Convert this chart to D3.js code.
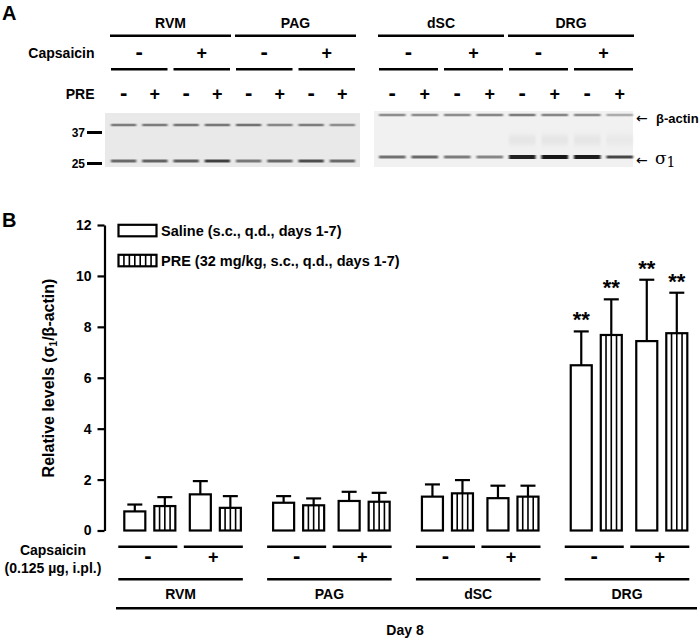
<!DOCTYPE html>
<html><head><meta charset="utf-8">
<script src="https://cdn.jsdelivr.net/npm/d3@7/dist/d3.min.js"></script>
<style>body{margin:0;background:#fff}svg{display:block}</style>
</head><body>
<script>
// ---------------- DATA ----------------
const regions = ["RVM", "PAG", "dSC", "DRG"];
const capsaicin = ["-", "+"];
const treatments = ["Saline", "PRE"];
const legendLabels = ["Saline (s.c., q.d., days 1-7)", "PRE (32 mg/kg, s.c., q.d., days 1-7)"];
// order: RVM-, RVM+, PAG-, PAG+, dSC-, dSC+, DRG-, DRG+
const salineMean = [0.75, 1.42, 1.09, 1.16, 1.33, 1.27, 6.49, 7.44];
const salineSEM  = [0.27, 0.52, 0.26, 0.36, 0.48, 0.49, 1.33, 2.41];
const preMean    = [0.96, 0.89, 0.99, 1.13, 1.46, 1.33, 7.68, 7.75];
const preSEM     = [0.35, 0.46, 0.27, 0.35, 0.52, 0.43, 1.40, 1.59];
const salineSig  = ["", "", "", "", "", "", "**", "**"];
const preSig     = ["", "", "", "", "", "", "**", "**"];
const yTicks = [0, 2, 4, 6, 8, 10, 12];

// Western blot (panel A): lanes PRE -/+ within capsaicin -/+ within region
const blotLeftRegions = ["RVM", "PAG"];
const blotRightRegions = ["dSC", "DRG"];
const lanePRE = ["-", "+", "-", "+", "-", "+", "-", "+"];
const actinLeft  = [0.50, 0.50, 0.52, 0.52, 0.55, 0.45, 0.50, 0.42];
const sigmaLeft  = [0.58, 0.62, 0.64, 0.78, 0.52, 0.58, 0.72, 0.58];
const actinRight = [0.42, 0.42, 0.42, 0.45, 0.50, 0.45, 0.42, 0.28];
const sigmaRight = [0.55, 0.58, 0.50, 0.45, 0.92, 0.97, 0.95, 0.75];
const hazeRight  = [0.00, 0.00, 0.00, 0.00, 0.05, 0.05, 0.05, 0.03];
const mwMarkers = ["37", "25"];

// ---------------- LAYOUT ----------------
const W = 700, H = 641;
const FONT = "'Liberation Sans', Arial, Helvetica, sans-serif";
const svg = d3.select("body").append("svg").attr("width", W).attr("height", H)
  .attr("font-family", FONT).attr("font-weight", "bold").attr("fill", "#000");

const defs = svg.append("defs");
defs.append("filter").attr("id", "blur").attr("x", "-20%").attr("y", "-200%").attr("width", "140%").attr("height", "500%")
  .append("feGaussianBlur").attr("stdDeviation", "0.9 0.7");
defs.append("filter").attr("id", "blur2").attr("x", "-20%").attr("y", "-200%").attr("width", "140%").attr("height", "500%")
  .append("feGaussianBlur").attr("stdDeviation", "1 3");

function sign(sel, s, x, yy) {
  return sel.append("text").attr("x", x).attr("y", yy).attr("text-anchor", "middle")
    .attr("font-size", s === "-" ? 22 : 18).text(s);
}

// ================= PANEL A =================
svg.append("text").attr("x", 2).attr("y", 20).attr("font-size", 20).text("A");

const laneLeft = d3.scaleBand().domain(d3.range(8)).range([108, 358]);
const laneRight = d3.scaleBand().domain(d3.range(8)).range([376, 636]);

function blot(lanes, regs, bandActin, bandSigma, haze, blotBox, yA, yS) {
  regs.forEach((r, ri) => {
    const x0 = lanes(ri * 4), x1 = lanes(ri * 4 + 3) + lanes.bandwidth();
    svg.append("text").attr("x", (x0 + x1) / 2).attr("y", 27.5).attr("text-anchor", "middle")
      .attr("font-size", 14).text(r);
    svg.append("line").attr("x1", x0 + 2).attr("x2", x1 - 2).attr("y1", 35.7).attr("y2", 35.7)
      .attr("stroke", "#000").attr("stroke-width", 2.6);
    capsaicin.forEach((c, ci) => {
      const a = lanes(ri * 4 + ci * 2), b = lanes(ri * 4 + ci * 2 + 1) + lanes.bandwidth();
      sign(svg, c, (a + b) / 2, 59);
      svg.append("line").attr("x1", a + 3).attr("x2", b - 3).attr("y1", 69.3).attr("y2", 69.3)
        .attr("stroke", "#000").attr("stroke-width", 2.6);
    });
  });
  lanePRE.forEach((p, i) => sign(svg, p, lanes(i) + lanes.bandwidth() / 2, 99.5));
  svg.append("rect").attr("x", blotBox[0]).attr("y", blotBox[1]).attr("width", blotBox[2]).attr("height", blotBox[3])
    .attr("fill", blotBox[4]);
  const gray = v => { const g = Math.round(232 - 215 * v); return d3.rgb(g, g, g); };
  const g = svg.append("g");
  g.selectAll("rect.haze").data(haze).join("rect").attr("class", "haze")
    .attr("x", (d, i) => lanes(i) + 3).attr("width", lanes.bandwidth() - 6)
    .attr("y", 136).attr("height", 8).attr("fill", d => gray(d)).attr("opacity", d => d > 0 ? 0.7 : 0)
    .attr("filter", "url(#blur2)");
  g.selectAll("rect.ba").data(bandActin).join("rect").attr("class", "ba")
    .attr("x", (d, i) => lanes(i) + 3).attr("width", lanes.bandwidth() - 6)
    .attr("y", yA - 1.3).attr("height", 2.6).attr("fill", d => gray(d)).attr("filter", "url(#blur)");
  g.selectAll("rect.bs").data(bandSigma).join("rect").attr("class", "bs")
    .attr("x", (d, i) => lanes(i) + 3).attr("width", lanes.bandwidth() - 6)
    .attr("y", d => yS - 1.5 - (d > 0.8 ? 0.5 : 0)).attr("height", d => d > 0.8 ? 4 : 3)
    .attr("fill", d => gray(d)).attr("filter", "url(#blur)");
}
blot(laneLeft, blotLeftRegions, actinLeft, sigmaLeft, [0,0,0,0,0,0,0,0], [105, 113, 255, 54, "#e9e9e9"], 125, 161);
blot(laneRight, blotRightRegions, actinRight, sigmaRight, hazeRight, [374, 111, 259, 56, "#f1f1f1"], 115, 157);

svg.append("text").attr("x", 94.5).attr("y", 57.8).attr("text-anchor", "end").attr("font-size", 14).text("Capsaicin");
svg.append("text").attr("x", 94.5).attr("y", 98.5).attr("text-anchor", "end").attr("font-size", 14).text("PRE");

const mwY = d3.scalePoint().domain(mwMarkers).range([132.5, 163.5]);
mwMarkers.forEach(m => {
  svg.append("text").attr("x", 85).attr("y", mwY(m) + 4.5).attr("text-anchor", "end").attr("font-size", 12).text(m);
  svg.append("line").attr("x1", 87).attr("x2", 102).attr("y1", mwY(m)).attr("y2", mwY(m))
    .attr("stroke", "#000").attr("stroke-width", 3);
});
svg.append("text").attr("x", 636).attr("y", 122.5).attr("font-size", 14).attr("font-weight", "normal")
  .attr("font-family", "'DejaVu Sans', sans-serif").attr("fill", "#000").text("←");
svg.append("text").attr("x", 656).attr("y", 123).attr("font-size", 13).attr("fill", "#000").text("β-actin");
svg.append("text").attr("x", 636).attr("y", 164.5).attr("font-size", 14).attr("font-weight", "normal")
  .attr("font-family", "'DejaVu Sans', sans-serif").attr("fill", "#000").text("←");
const sg = svg.append("text").attr("x", 655).attr("y", 164).attr("font-size", 17).attr("font-weight", "normal")
  .attr("fill", "#000").attr("font-family", "'DejaVu Serif', 'Liberation Serif', serif");
sg.append("tspan").attr("fill", "#000").text("σ");
sg.append("tspan").attr("fill", "#000").attr("dy", 3).attr("font-size", 14).text("1");

// ================= PANEL B =================
svg.append("text").attr("x", 2).attr("y", 227).attr("font-size", 20).text("B");

const y = d3.scaleLinear().domain([0, 12]).range([530.5, 225]);
const xRegion = d3.scaleBand().domain(regions).range([124.3, 687.3]).paddingInner(0.2168).paddingOuter(0);
const xCap = d3.scaleBand().domain(capsaicin).range([0, xRegion.bandwidth()]).paddingInner(0.221);
const xTrt = d3.scaleBand().domain(treatments).range([0, xCap.bandwidth()]).paddingInner(0.3);

const yAxis = svg.append("g").attr("transform", "translate(104.5,0)")
  .call(d3.axisLeft(y).tickValues(yTicks).tickSize(7).tickSizeOuter(0).tickPadding(6));
yAxis.select(".domain").attr("stroke-width", 2.2);
yAxis.selectAll(".tick line").attr("stroke-width", 2.2);
yAxis.selectAll(".tick text").attr("font-size", 14).attr("font-family", FONT).attr("font-weight", "bold").attr("fill", "#000");

const yt = svg.append("text").attr("transform", "translate(53.5,378) rotate(-90)").attr("text-anchor", "middle")
  .attr("font-size", 16);
yt.append("tspan").text("Relative levels (σ");
yt.append("tspan").attr("font-size", 10).attr("dy", 3).text("1");
yt.append("tspan").attr("dy", -3).text("/β-actin)");

const rows = [];
regions.forEach((r, ri) => capsaicin.forEach((c, ci) => {
  const i = ri * 2 + ci;
  rows.push({ region: r, cap: c, trt: "Saline", mean: salineMean[i], sem: salineSEM[i], sig: salineSig[i] });
  rows.push({ region: r, cap: c, trt: "PRE", mean: preMean[i], sem: preSEM[i], sig: preSig[i] });
}));
const bx = d => xRegion(d.region) + xCap(d.cap) + xTrt(d.trt);
const bw = xTrt.bandwidth();

const bars = svg.append("g");
bars.selectAll("rect.bar").data(rows).join("rect").attr("class", "bar")
  .attr("x", bx).attr("width", bw).attr("y", d => y(d.mean)).attr("height", d => y(0) - y(d.mean))
  .attr("fill", "#fff").attr("stroke", "#000").attr("stroke-width", 2.2);
rows.filter(d => d.trt === "PRE").forEach(d => {
  [1, 2, 3].forEach(k => {
    bars.append("line").attr("x1", bx(d) + bw * k / 4).attr("x2", bx(d) + bw * k / 4)
      .attr("y1", y(d.mean)).attr("y2", y(0)).attr("stroke", "#000").attr("stroke-width", 1.6);
  });
});
bars.selectAll("line.err").data(rows).join("line").attr("class", "err")
  .attr("x1", d => bx(d) + bw / 2).attr("x2", d => bx(d) + bw / 2)
  .attr("y1", d => y(d.mean)).attr("y2", d => y(d.mean + d.sem)).attr("stroke", "#000").attr("stroke-width", 2.2);
bars.selectAll("line.ecap").data(rows).join("line").attr("class", "ecap")
  .attr("x1", d => bx(d) + bw / 2 - 7.5).attr("x2", d => bx(d) + bw / 2 + 7.5)
  .attr("y1", d => y(d.mean + d.sem)).attr("y2", d => y(d.mean + d.sem)).attr("stroke", "#000").attr("stroke-width", 2.2);
bars.selectAll("text.sig").data(rows.filter(d => d.sig)).join("text").attr("class", "sig")
  .attr("x", d => bx(d) + bw / 2).attr("y", d => y(d.mean + d.sem) - 4).attr("text-anchor", "middle")
  .attr("font-size", 22).text(d => d.sig);

const legY = d3.scalePoint().domain(treatments).range([230.3, 260.3]);
treatments.forEach((t, i) => {
  const ly = legY(t);
  svg.append("rect").attr("x", 118.5).attr("y", ly - 5.5).attr("width", 38).attr("height", 11.5)
    .attr("fill", "#fff").attr("stroke", "#000").attr("stroke-width", 2.2);
  if (t === "PRE") {
    d3.range(1, 7).forEach(k => svg.append("line").attr("x1", 118.5 + 38 * k / 7).attr("x2", 118.5 + 38 * k / 7)
      .attr("y1", ly - 5.5).attr("y2", ly + 6).attr("stroke", "#000").attr("stroke-width", 1.6));
  }
  svg.append("text").attr("x", 161).attr("y", ly + 5.7).attr("font-size", 14.5).text(legendLabels[i]);
});

regions.forEach(r => {
  const x0 = xRegion(r);
  capsaicin.forEach(c => {
    const a = x0 + xCap(c), b = a + xCap.bandwidth();
    svg.append("line").attr("x1", a - 6).attr("x2", b + 2).attr("y1", 546.7).attr("y2", 546.7)
      .attr("stroke", "#000").attr("stroke-width", 2.4);
    sign(svg, c, (a + b) / 2 - 2, 563);
  });
  svg.append("line").attr("x1", x0 - 6).attr("x2", x0 + xRegion.bandwidth() + 2).attr("y1", 579.3).attr("y2", 579.3)
    .attr("stroke", "#000").attr("stroke-width", 2.4);
  svg.append("text").attr("x", x0 + xRegion.bandwidth() / 2 - 2).attr("y", 598.5).attr("text-anchor", "middle")
    .attr("font-size", 14).text(r);
});
svg.append("line").attr("x1", 116).attr("x2", 697).attr("y1", 608.3).attr("y2", 608.3).attr("stroke", "#000").attr("stroke-width", 2.4);
svg.append("text").attr("x", 405).attr("y", 635).attr("text-anchor", "middle").attr("font-size", 14).text("Day 8");
svg.append("text").attr("x", 53).attr("y", 554.5).attr("text-anchor", "middle").attr("font-size", 14).text("Capsaicin");
svg.append("text").attr("x", 53).attr("y", 572.5).attr("text-anchor", "middle").attr("font-size", 14).text("(0.125 µg, i.pl.)");
</script>
</body></html>
